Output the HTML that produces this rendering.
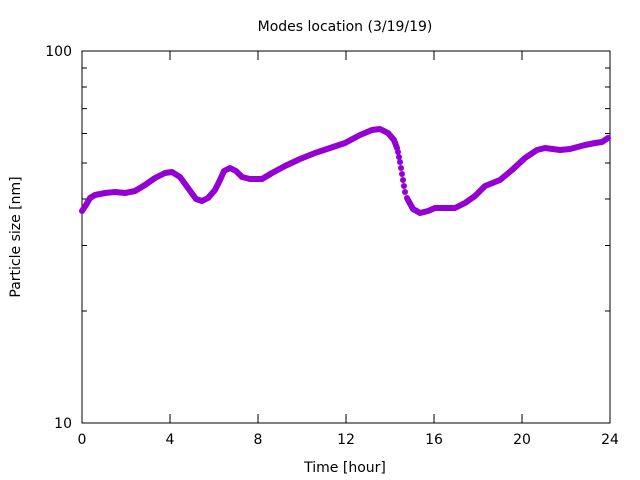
<!DOCTYPE html>
<html><head><style>body{margin:0;background:#fff}svg{display:block}text{font-family:"DejaVu Sans","Liberation Sans",sans-serif;font-size:14px;fill:#000}</style></head><body>
<svg width="640" height="480" xmlns="http://www.w3.org/2000/svg">
<rect x="82" y="51" width="528" height="372" fill="none" stroke="#000" stroke-width="1"/>
<g stroke="#000" stroke-width="1">
<path d="M82 311h5M82 245.5h5M82 199h5M82 163h5M82 133.5h5M82 108.6h5M82 87h5M82 68h5M82 51h9M82 423h9"/>
<path d="M610 311h-5M610 245.5h-5M610 199h-5M610 163h-5M610 133.5h-5M610 108.6h-5M610 87h-5M610 68h-5M610 51h-9M610 423h-9"/>
<path d="M170 423v-9M258 423v-9M346 423v-9M434 423v-9M522 423v-9M170 51v9M258 51v9M346 51v9M434 51v9M522 51v9"/>
</g>
<g text-anchor="end"><text x="72" y="56">100</text><text x="72" y="428">10</text></g>
<g text-anchor="middle">
<text x="82" y="444">0</text><text x="170" y="444">4</text><text x="258" y="444">8</text><text x="346" y="444">12</text><text x="434" y="444">16</text><text x="522" y="444">20</text><text x="610" y="444">24</text>
<text x="345" y="472">Time [hour]</text>
<text x="345" y="31">Modes location (3/19/19)</text>
<text transform="translate(20,237) rotate(-90)">Particle size [nm]</text>
</g>
<polyline fill="none" stroke="#9400d3" stroke-width="6" stroke-linejoin="round" stroke-linecap="round" points="82,211 86,205 90,198 95,195 105,193 115,192 125,193 135,191 145,185 155,178 165,173 172,172 180,177 188,188 196,199 202,201 208,198 215,190 220,180 224,171 230,168 236,171 242,177 250,179 262,179 272,173 285,166 300,159 315,153 330,148 345,143 360,135 372,130 380,129 388,133 394,140 397,148"/>
<g fill="#9400d3">
<circle cx="398" cy="152" r="3"/><circle cx="399" cy="157" r="3"/><circle cx="400" cy="162" r="3"/><circle cx="401" cy="168" r="3"/><circle cx="402" cy="174" r="3"/><circle cx="403" cy="180" r="3"/><circle cx="404" cy="186" r="3"/><circle cx="405" cy="192" r="3"/><circle cx="407" cy="198" r="3"/>
</g>
<polyline fill="none" stroke="#9400d3" stroke-width="6" stroke-linejoin="round" stroke-linecap="round" points="408,200 413,209 420,213 428,211 435,208 455,208 465,203 475,196 485,186 500,180 512,170 525,158 537,150 545,148 560,150 570,149 585,145 595,143 602,142 608,138"/>
</svg>
</body></html>
